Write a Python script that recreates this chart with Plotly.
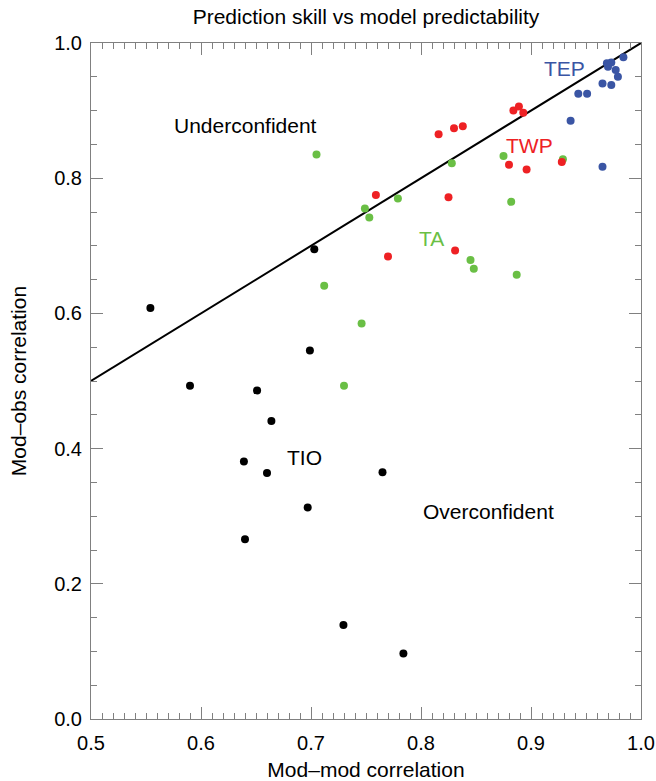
import plotly.graph_objects as go

# TIO (black)
tio_x = [0.554, 0.590, 0.651, 0.664, 0.639, 0.660, 0.697, 0.640, 0.765, 0.7295, 0.784, 0.699, 0.703]
tio_y = [0.608, 0.493, 0.486, 0.441, 0.381, 0.364, 0.313, 0.266, 0.365, 0.139, 0.097, 0.545, 0.695]

# TA (green)
ta_x = [0.705, 0.712, 0.746, 0.730, 0.749, 0.753, 0.779, 0.828, 0.845, 0.848, 0.882, 0.887, 0.875, 0.929]
ta_y = [0.835, 0.641, 0.585, 0.493, 0.755, 0.742, 0.770, 0.822, 0.679, 0.666, 0.765, 0.657, 0.833, 0.828]

# TWP (red)
twp_x = [0.759, 0.825, 0.770, 0.831, 0.816, 0.830, 0.838, 0.880, 0.896, 0.884, 0.889, 0.893, 0.928]
twp_y = [0.775, 0.772, 0.684, 0.693, 0.865, 0.874, 0.877, 0.820, 0.813, 0.900, 0.906, 0.897, 0.824]

# TEP (blue)
tep_x = [0.936, 0.943, 0.951, 0.965, 0.973, 0.979, 0.977, 0.969, 0.973, 0.970, 0.984, 0.965]
tep_y = [0.885, 0.925, 0.925, 0.940, 0.938, 0.950, 0.960, 0.970, 0.971, 0.965, 0.979, 0.817]

FONT = "Liberation Sans, Arial, Helvetica, sans-serif"
GREY = "#808080"
W, H = 656, 781

fig = go.Figure()
fig.add_trace(go.Scatter(x=[0.5, 1.0], y=[0.5, 1.0], mode="lines",
                         line=dict(color="black", width=2), showlegend=False, hoverinfo="skip"))
for xs, ys, col in [(tio_x, tio_y, "black"), (ta_x, ta_y, "#6abf45"),
                    (twp_x, twp_y, "#ee2124"), (tep_x, tep_y, "#3a55a4")]:
    fig.add_trace(go.Scatter(x=xs, y=ys, mode="markers",
                             marker=dict(color=col, size=8, line=dict(width=0)),
                             showlegend=False))

annots = [
    ("Underconfident", 0.6402, 0.878, "black"),
    ("Overconfident", 0.8612, 0.307, "black"),
    ("TEP", 0.9305, 0.963, "#3a55a4"),
    ("TWP", 0.899, 0.849, "#ee2124"),
    ("TA", 0.8092, 0.711, "#6abf45"),
    ("TIO", 0.6943, 0.387, "black"),
]
for t, x, y, c in annots:
    fig.add_annotation(x=x, y=y, text=t, showarrow=False,
                       font=dict(color=c, size=21, family=FONT))

axis_common = dict(
    showgrid=False, zeroline=False, showline=True, linecolor=GREY, linewidth=1,
    mirror="ticks", ticks="inside", tickcolor=GREY, ticklen=12, tickwidth=1,
    tickfont=dict(size=20, color="black", family=FONT), automargin=False,
)
fig.update_xaxes(range=[0.5, 1.0], dtick=0.1, tickformat=".1f", ticklabelstandoff=6,
                 minor=dict(ticks="inside", dtick=0.01, ticklen=6, tickcolor=GREY),
                 title=dict(text="Mod\u2013mod correlation", font=dict(size=21, family=FONT, color="black"),
                            standoff=10),
                 **axis_common)
fig.update_yaxes(range=[0.0, 1.0], dtick=0.2, tickformat=".1f", ticklabelstandoff=4,
                 minor=dict(ticks="inside", dtick=0.05, ticklen=6, tickcolor=GREY),
                 title=dict(text="Mod\u2013obs correlation", font=dict(size=21, family=FONT, color="black"),
                            standoff=21),
                 **axis_common)

fig.update_layout(
    width=W, height=H,
    margin=dict(l=91, r=15, t=43, b=62),
    paper_bgcolor="white", plot_bgcolor="white",
    title=dict(text="Prediction skill vs model predictability", x=0.5, xref="paper", xanchor="center",
               y=1 - 17 / H, yanchor="middle", font=dict(size=21, family=FONT, color="black")),
)

fig.write_html(
    "out.html",
    config={"displayModeBar": False},
    post_script="document.body.style.margin='0';document.body.style.overflow='hidden';"
                "document.documentElement.style.overflow='hidden';",
)
